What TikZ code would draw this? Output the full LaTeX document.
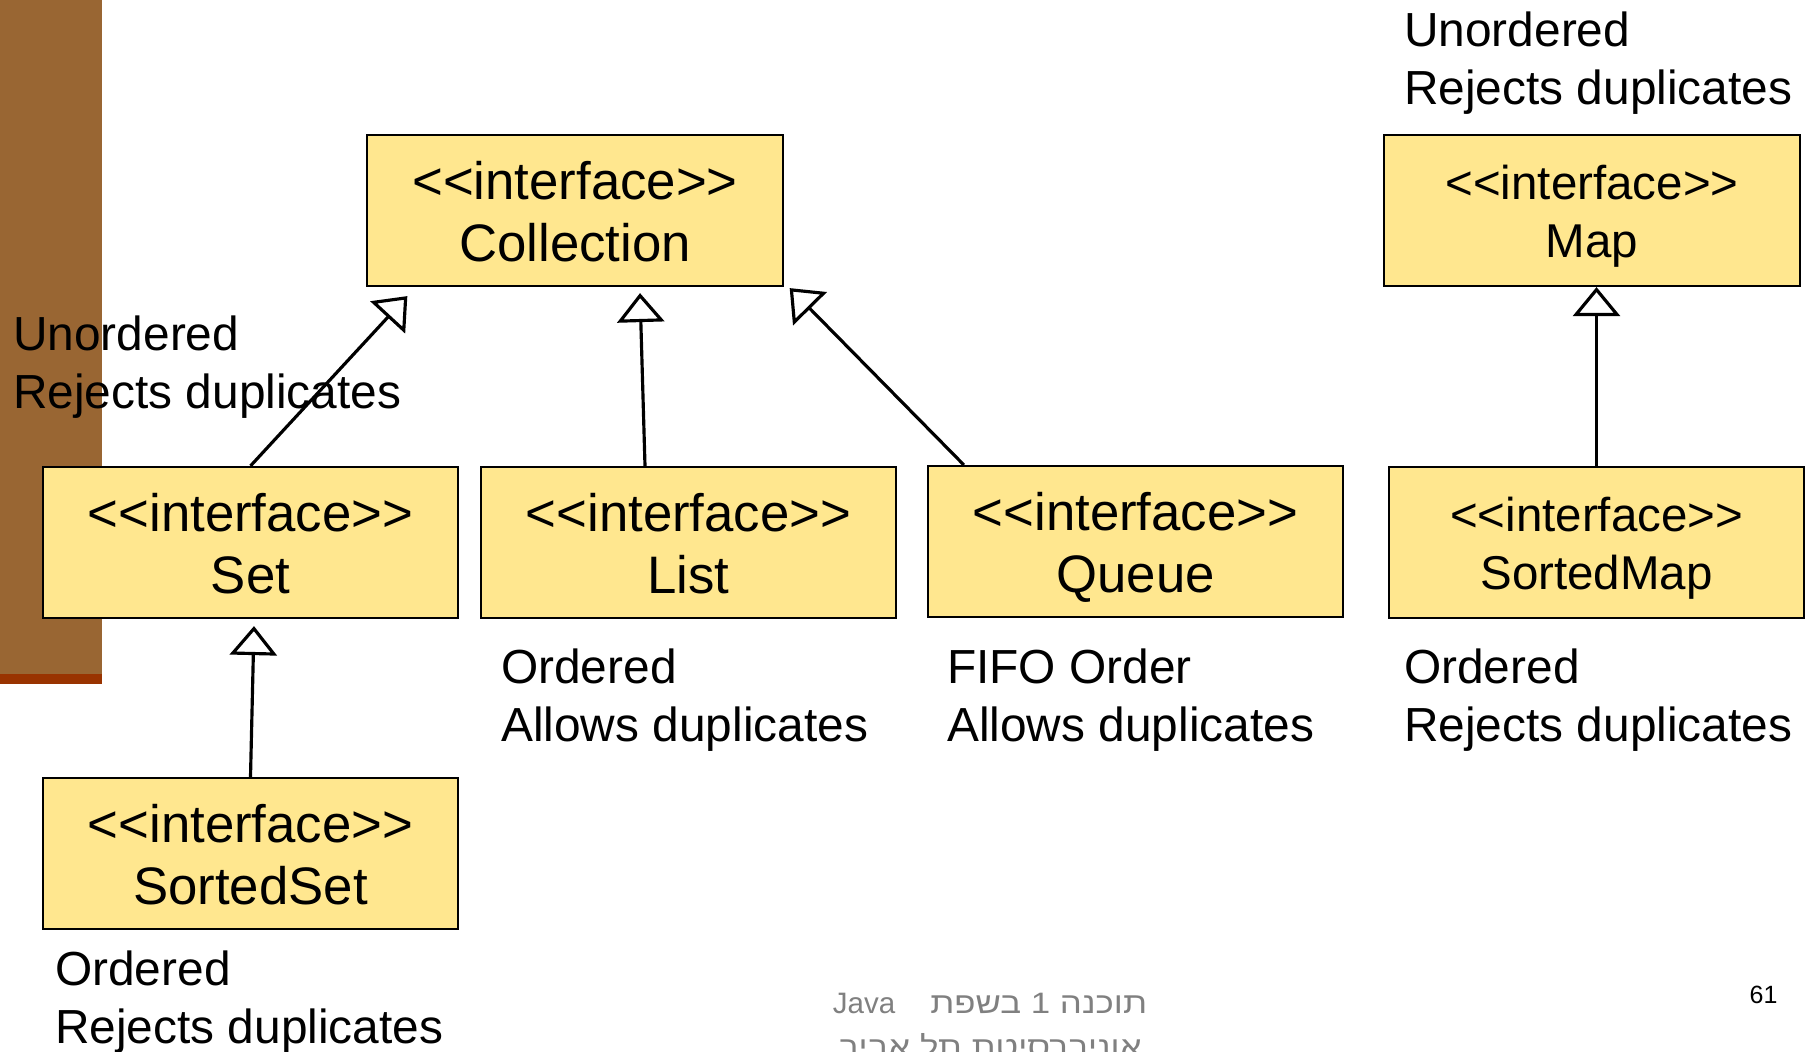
\documentclass[tikz,border=0pt]{standalone}
\usepackage{fontspec}
\setmainfont{Liberation Sans}
\newfontfamily\hebfont[Script=Hebrew,FakeStretch=1.18]{Liberation Sans}
\newfontfamily\latinfont{Liberation Sans}
\TeXXeTstate=1
\usetikzlibrary{arrows.meta}
\definecolor{barbrown}{HTML}{996633}
\definecolor{barred}{HTML}{993300}
\definecolor{boxyellow}{HTML}{FFE78F}
\definecolor{footgray}{HTML}{808080}
\newcommand{\ifacetag}{<\kern0pt<interface>\kern0pt>}
\newcommand{\ifacebox}[1]{\rule{0pt}{0.98em}\ifacetag\\#1\rule[-0.21em]{0pt}{0pt}}

\begin{document}
\begin{tikzpicture}[x=0.01cm,y=-0.01cm,
		iface/.style={draw=black,line width=0.6pt,fill=boxyellow,minimum width=4.15cm,minimum height=1.51cm,align=center,font=\fontsize{15}{17.6}\selectfont},
		ifacesmall/.style={iface,font=\fontsize{13.5}{16.5}\selectfont},
		note/.style={anchor=west,align=left,font=\fontsize{13.6}{16.5}\selectfont},
		inherit/.style={line width=0.9pt,-{Triangle[open,length=0.29cm,width=0.47cm]}}]
			\tikzstyle{every node}+=[inner sep=0pt]
			\useasboundingbox (0,0) rectangle (1809,1051);
			\clip (0,0) rectangle (1809,1051);
			\fill [barbrown] (0,0) rectangle (102,674);
			\fill [barred] (0,674) rectangle (102,684);
			\draw (575,210.5) node [iface] (coll) {\ifacebox{Collection}};
			\draw (1592,210.5) node [ifacesmall] (map) {\ifacebox{Map}};
			\draw (250.5,542.5) node [iface] (set) {\ifacebox{Set}};
			\draw (688.5,542.5) node [iface] (list) {\ifacebox{List}};
			\draw (1135.5,541.5) node [iface] (queue) {\ifacebox{Queue}};
			\draw (1596.5,542.5) node [ifacesmall] (smap) {\ifacebox{SortedMap}};
			\draw (250.5,853.5) node [iface] (sset) {\ifacebox{SortedSet}};
			\draw (1403.5,63) node [note] (mapnote) {Unordered\\Rejects duplicates};
			\draw (12.5,367) node [note] (setnote) {Unordered\\Rejects duplicates};
			\draw (500.5,700) node [note] (listnote) {Ordered\\Allows duplicates};
			\draw (946.5,700) node [note] (queuenote) {FIFO Order\\Allows duplicates};
			\draw (1403.5,700) node [note] (smapnote) {Ordered\\Rejects duplicates};
			\draw (54.5,1002) node [note] (ssetnote) {Ordered\\Rejects duplicates};
			\draw [inherit] (set.north) -- ([shift={(41,9)}]coll.south west);
			\draw [inherit] ([shift={(-43.5,0)}]list.north) -- ([shift={(65,6)}]coll.south);
			\draw [inherit] ([shift={(37,0)}]queue.north west) -- ([shift={(6,1)}]coll.south east);
			\draw [inherit] (smap.north) -- (smap.north |- map.south);
			\draw [inherit] (sset.north) -- ([shift={(3.5,7)}]set.south);
			\draw (990,992) node [anchor=north,align=center,text=footgray,font=\hebfont\fontsize{8.4}{12.5}\selectfont] (foot) {\beginR תוכנה 1 בשפת\hspace{0.35cm}\beginL{\latinfont Java}\endL\endR\\\beginR אוניברסיטת תל אביב\endR};
			\draw (1749,1003) node [anchor=base west,font=\fontsize{7.1}{8.5}\selectfont] (pagenum) {61};
		\end{tikzpicture}
\end{document}
